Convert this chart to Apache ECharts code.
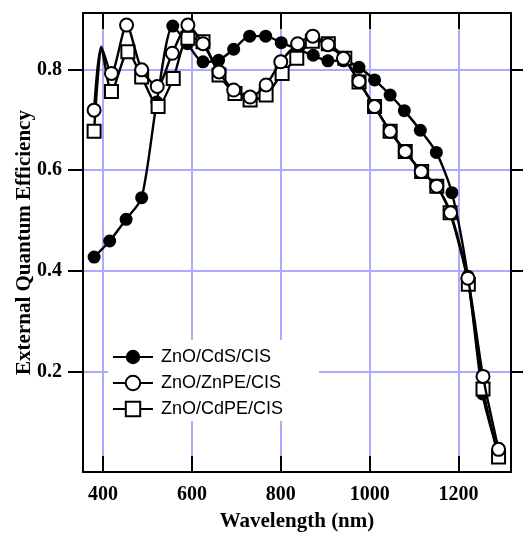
<!DOCTYPE html>
<html>
<head>
<meta charset="utf-8">
<script src="https://cdn.jsdelivr.net/npm/echarts@6/dist/echarts.min.js"></script>
<style>
  html, body { margin: 0; padding: 0; background: #fff; }
  #chart { width: 523px; height: 534px; }
</style>
</head>
<body>
<div id="chart"></div>
<script>
/* values */
var cdsWl  = [380, 415, 452, 487, 521, 557, 590, 625, 660, 694, 730, 766, 801, 838, 873, 906, 941, 976, 1011, 1046, 1078, 1114, 1150, 1185, 1221, 1254, 1290];
var cdsEqe = [0.427, 0.459, 0.502, 0.545, 0.735, 0.886, 0.851, 0.815, 0.818, 0.840, 0.866, 0.866, 0.853, 0.840, 0.828, 0.817, 0.817, 0.804, 0.779, 0.749, 0.718, 0.679, 0.635, 0.555, 0.389, 0.155, 0.035];

var znpeWl  = [380, 419, 453, 487, 522, 556, 591, 625, 661, 694, 731, 767, 800, 838, 872, 906, 941, 976, 1011, 1046, 1080, 1116, 1151, 1182, 1221, 1255, 1290];
var znpeEqe = [0.719, 0.792, 0.888, 0.799, 0.766, 0.832, 0.888, 0.851, 0.795, 0.759, 0.745, 0.769, 0.815, 0.851, 0.866, 0.849, 0.822, 0.776, 0.726, 0.677, 0.637, 0.597, 0.568, 0.515, 0.385, 0.190, 0.045];
var znpeExtra = [[396, 0.845]];

var cdpeWl  = [380, 419, 456, 487, 524, 558, 591, 625, 661, 697, 731, 767, 803, 836, 871, 907, 944, 976, 1011, 1046, 1080, 1117, 1151, 1181, 1222, 1255, 1290];
var cdpeEqe = [0.677, 0.756, 0.835, 0.785, 0.726, 0.782, 0.862, 0.855, 0.789, 0.752, 0.739, 0.749, 0.792, 0.822, 0.856, 0.851, 0.822, 0.775, 0.726, 0.677, 0.637, 0.597, 0.568, 0.515, 0.373, 0.165, 0.030];
var cdpeExtra = [[397, 0.840]];

var seriesNames = ['ZnO/CdS/CIS', 'ZnO/ZnPE/CIS', 'ZnO/CdPE/CIS'];
var xTicks = [400, 600, 800, 1000, 1200];
var yTicks = [0.2, 0.4, 0.6, 0.8];

/* marker points plus extra line-only points */
function buildData(wl, eqe, extra) {
  var pts = [];
  for (var i = 0; i < wl.length; i++) {
    pts.push({ value: [wl[i], eqe[i]] });
  }
  for (var j = 0; j < extra.length; j++) {
    pts.push({ value: extra[j], symbol: 'none' });
  }
  pts.sort(function (a, b) { return a.value[0] - b.value[0]; });
  return pts;
}

var serif = 'Liberation Serif';
var black = '#000';
var lineW = 2.4;

function makeX(pos, labels) {
  return {
    type: 'value',
    position: pos,
    min: 355,
    max: 1318,
    axisLine: { show: true, onZero: false, lineStyle: { color: black, width: 2 } },
    axisTick: { show: true, inside: true, length: 16, customValues: xTicks, lineStyle: { color: black, width: 2 } },
    axisLabel: {
      show: labels,
      customValues: xTicks,
      margin: 13,
      color: black,
      fontFamily: serif,
      fontWeight: 'bold',
      fontSize: 20,
      formatter: function (v) { return String(v); }
    },
    splitLine: { show: labels, lineStyle: { color: '#aaaaff', width: 2 } }
  };
}

function makeY(pos, labels) {
  return {
    type: 'value',
    position: pos,
    min: 0,
    max: 0.912,
    axisLine: { show: true, onZero: false, lineStyle: { color: black, width: 2 } },
    axisTick: { show: true, inside: false, length: pos === 'left' ? 15 : 12, customValues: yTicks, lineStyle: { color: black, width: 2 } },
    axisLabel: {
      show: labels,
      customValues: yTicks,
      margin: 21,
      color: black,
      fontFamily: serif,
      fontWeight: 'bold',
      fontSize: 20,
      formatter: function (v) { return v.toFixed(1); }
    },
    splitLine: { show: labels, lineStyle: { color: '#aaaaff', width: 2 } }
  };
}

var xBottom = makeX('bottom', true);
xBottom.name = 'Wavelength (nm)';
xBottom.nameLocation = 'middle';
xBottom.nameGap = 39;
xBottom.nameTextStyle = { color: black, fontFamily: serif, fontWeight: 'bold', fontSize: 21 };

var yLeft = makeY('left', true);
yLeft.name = 'External Quantum Efficiency';
yLeft.nameLocation = 'middle';
yLeft.nameGap = 48;
yLeft.nameMoveOverlap = false;
yLeft.nameTextStyle = { color: black, fontFamily: serif, fontWeight: 'bold', fontSize: 21 };

var chart = echarts.init(document.getElementById('chart'));
var option = {
  backgroundColor: '#fff',
  animation: false,
  grid: { left: 83, right: 12, top: 13, bottom: 62, outerBoundsMode: 'none' },
  xAxis: [xBottom, makeX('top', false)],
  yAxis: [yLeft, makeY('right', false)],
  legend: {
    data: seriesNames,
    orient: 'vertical',
    left: 108,
    top: 340,
    padding: [8, 36, 3, 4],
    itemGap: 8,
    itemWidth: 40,
    itemHeight: 18,
    backgroundColor: '#fff',
    textStyle: { color: black, fontFamily: 'Liberation Sans', fontSize: 18, padding: [0, 0, 0, 3] }
  },
  series: [
    {
      name: seriesNames[0],
      type: 'line',
      smooth: 0.25,
      symbol: 'circle',
      symbolSize: 13,
      z: 2,
      lineStyle: { color: black, width: lineW },
      itemStyle: { color: black },
      data: buildData(cdsWl, cdsEqe, [])
    },
    {
      name: seriesNames[1],
      type: 'line',
      smooth: 0.25,
      symbol: 'emptyCircle',
      symbolSize: 13,
      z: 4,
      lineStyle: { color: black, width: lineW },
      itemStyle: { color: black, borderColor: black, borderWidth: 2 },
      data: buildData(znpeWl, znpeEqe, znpeExtra)
    },
    {
      name: seriesNames[2],
      type: 'line',
      smooth: 0.25,
      symbol: 'emptyRect',
      symbolSize: 13,
      z: 3,
      lineStyle: { color: black, width: lineW },
      itemStyle: { color: black, borderColor: black, borderWidth: 2 },
      data: buildData(cdpeWl, cdpeEqe, cdpeExtra)
    }
  ]
};
chart.setOption(option);
</script>
</body>
</html>
